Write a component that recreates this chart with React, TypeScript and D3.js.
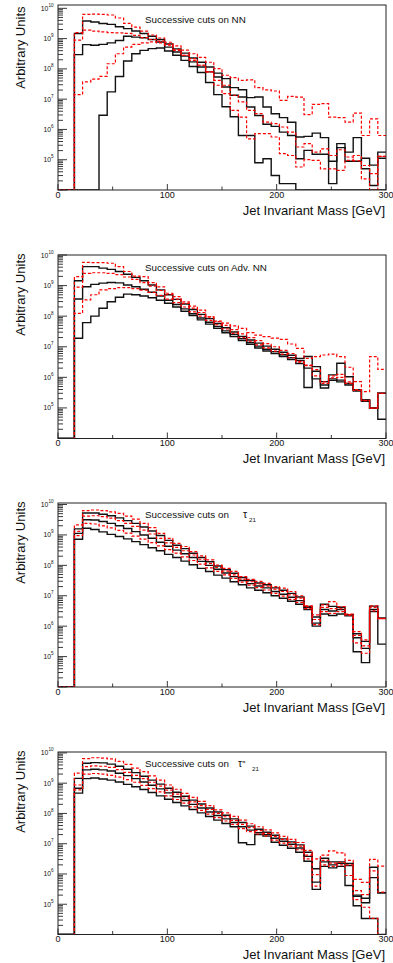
import React from 'react';
import * as d3 from 'd3';

// ---------- data (values are log10 of the bin content, null = empty bin) ----------
const binLowEdges = [0, 7.5, 15, 22.5, 30, 37.5, 45, 52.5, 60, 67.5, 75, 82.5, 90, 97.5, 105, 112.5, 120, 127.5, 135, 142.5, 150, 157.5, 165, 172.5, 180, 187.5, 195, 202.5, 210, 217.5, 225, 232.5, 240, 247.5, 255, 262.5, 270, 277.5, 285, 292.5];
const massMax = 300;
const xTickLabels = [0, 100, 200, 300];
const xMinorTicks = [50, 150, 250];
const yLabelDecades = [5, 6, 7, 8, 9, 10];

// Panel 1: NN
const nnRed1 = [null, null, 9.20, 9.80, 9.81, 9.80, 9.78, 9.68, 9.50, 9.38, 9.25, 9.12, 9.02, 8.88, 8.76, 8.62, 8.50, 8.38, 8.22, 8.01, 7.79, 7.71, 7.62, 7.64, 7.38, 7.31, 7.27, 6.96, 7.09, 7.07, 6.49, 6.83, 6.85, 6.41, 6.39, 6.24, 6.54, 5.80, 6.35, 5.80];
const nnBlack1 = [null, null, 9.17, 9.58, 9.55, 9.50, 9.47, 9.39, 9.33, 9.25, 9.17, 9.08, 8.97, 8.82, 8.66, 8.52, 8.36, 8.22, 8.06, 7.86, 7.68, 7.38, 7.31, 7.05, 7.07, 6.74, 6.52, 6.39, 6.24, 5.75, 5.77, 5.88, 5.73, 4.21, 5.53, 5.25, 5.73, 4.70, 4.15, 5.25];
const nnRed2 = [null, null, 8.95, 9.28, 9.25, 9.22, 9.20, 9.19, 9.17, 9.11, 9.03, 8.97, 8.92, 8.78, 8.61, 8.45, 8.28, 8.12, 7.90, 7.62, 7.46, 7.13, 6.91, 6.63, 6.52, 6.24, 6.19, 6.08, 5.91, 5.42, 5.53, 5.25, 5.36, 5.14, 5.33, 5.09, 4.96, 4.81, 4.54, 5.11];
const nnBlack2 = [null, null, 8.47, 8.80, 8.78, 8.81, 8.86, 8.94, 9.08, 9.05, 9.03, 8.97, 8.89, 8.72, 8.56, 8.42, 8.23, 8.06, 7.90, 7.73, 7.40, 7.13, 7.07, 6.74, 6.46, 6.17, 6.10, 5.91, 5.80, 5.03, 5.31, 5.18, 5.18, 4.95, 5.40, 4.95, 4.95, 5.05, 4.82, 5.05];
const nnRed3 = [null, null, 7.15, 7.57, 7.66, 7.75, 8.17, 8.50, 8.72, 8.81, 8.86, 8.89, 8.86, 8.81, 8.64, 8.45, 8.34, 8.12, 7.90, 7.46, 7.18, 6.63, 6.41, 5.69, 5.86, 5.86, 5.75, 5.20, 5.14, 4.76, 5.00, 4.98, 4.70, 4.70, 4.65, 4.98, 5.14, 4.37, 3.99, 5.11];
const nnBlack3 = [null, null, null, null, null, 6.47, 7.24, 7.75, 8.26, 8.50, 8.61, 8.67, 8.69, 8.59, 8.45, 8.28, 8.08, 7.88, 7.55, 7.15, 6.75, 6.42, 5.80, 5.80, 4.90, 5.03, 4.48, 4.21, 4.21, null, null, null, null, null, null, null, null, null, null, null];

// Panel 2: Adv. NN
const advRed1 = [null, null, 9.29, 9.76, 9.75, 9.75, 9.73, 9.62, 9.46, 9.31, 9.29, 9.10, 8.96, 8.75, 8.64, 8.47, 8.33, 8.20, 7.98, 7.82, 7.77, 7.68, 7.60, 7.46, 7.38, 7.33, 7.28, 7.24, 7.09, 6.95, 6.62, 6.68, 6.73, 6.76, 6.68, 6.33, 5.86, 5.53, 6.68, 6.26];
const advBlack1 = [null, null, 9.16, 9.62, 9.62, 9.57, 9.53, 9.46, 9.37, 9.27, 9.16, 9.02, 8.86, 8.70, 8.55, 8.40, 8.22, 8.06, 7.92, 7.76, 7.62, 7.48, 7.34, 7.22, 7.12, 7.02, 6.92, 6.82, 6.72, 6.62, 6.68, 6.35, 5.86, 6.08, 6.46, 6.02, 5.59, 5.26, 4.99, 5.48];
const advRed2 = [null, null, 8.95, 9.40, 9.42, 9.42, 9.40, 9.36, 9.28, 9.20, 9.10, 8.98, 8.84, 8.70, 8.56, 8.42, 8.26, 8.12, 7.98, 7.84, 7.70, 7.56, 7.42, 7.30, 7.20, 7.10, 7.00, 6.88, 6.78, 6.50, 6.40, 6.25, 5.85, 6.05, 6.10, 5.85, 5.60, 5.24, 4.99, 5.48];
const advBlack2 = [null, null, 8.56, 8.96, 9.04, 9.08, 9.10, 9.09, 9.02, 8.96, 8.88, 8.78, 8.66, 8.52, 8.38, 8.24, 8.08, 7.94, 7.80, 7.66, 7.52, 7.40, 7.26, 7.14, 7.02, 6.92, 6.84, 6.74, 6.64, 6.55, 5.67, 6.20, 5.75, 5.95, 5.91, 5.75, 5.55, 5.22, 4.99, 5.48];
const advRed3 = [null, null, 8.09, 8.53, 8.70, 8.86, 8.90, 8.93, 8.93, 8.90, 8.85, 8.78, 8.68, 8.56, 8.44, 8.30, 8.14, 8.00, 7.86, 7.72, 7.58, 7.44, 7.30, 7.18, 7.06, 6.96, 6.86, 6.76, 6.64, 6.52, 6.38, 6.05, 5.80, 5.98, 6.00, 5.80, 5.57, 5.25, 4.99, 5.48];
const advBlack3 = [null, null, 7.28, 7.79, 8.00, 8.26, 8.47, 8.62, 8.72, 8.70, 8.66, 8.60, 8.52, 8.42, 8.30, 8.16, 8.02, 7.88, 7.74, 7.60, 7.46, 7.33, 7.20, 7.08, 6.96, 6.86, 6.78, 6.68, 6.58, 6.45, 6.30, 5.95, 5.65, 5.90, 5.85, 5.80, 5.59, 5.26, 4.99, 4.63];

// Panel 3: tau21
const t21Red1 = [null, null, 9.33, 9.80, 9.82, 9.80, 9.76, 9.71, 9.62, 9.52, 9.38, 9.24, 9.05, 8.89, 8.72, 8.62, 8.45, 8.31, 8.18, 8.01, 7.90, 7.80, 7.63, 7.54, 7.47, 7.41, 7.30, 7.25, 7.14, 7.00, 6.67, 6.37, 6.70, 6.81, 6.64, 6.40, 5.82, 5.55, 6.67, 6.26];
const t21Black1 = [null, null, 9.20, 9.72, 9.72, 9.68, 9.63, 9.56, 9.47, 9.38, 9.26, 9.13, 8.98, 8.82, 8.66, 8.55, 8.40, 8.26, 8.12, 7.98, 7.86, 7.74, 7.60, 7.50, 7.42, 7.36, 7.26, 7.18, 7.08, 6.96, 6.65, 6.30, 6.72, 6.65, 6.62, 6.38, 5.75, 5.50, 6.66, 6.26];
const t21Red2 = [null, null, 9.12, 9.62, 9.63, 9.60, 9.55, 9.47, 9.38, 9.28, 9.16, 9.03, 8.89, 8.74, 8.59, 8.48, 8.34, 8.20, 8.06, 7.93, 7.81, 7.69, 7.55, 7.46, 7.39, 7.32, 7.22, 7.14, 7.03, 6.92, 6.64, 6.22, 6.62, 6.58, 6.57, 6.38, 5.70, 5.35, 6.62, 6.25];
const t21Black2 = [null, null, 9.05, 9.50, 9.49, 9.44, 9.38, 9.30, 9.21, 9.11, 9.00, 8.89, 8.76, 8.63, 8.50, 8.38, 8.26, 8.13, 8.00, 7.87, 7.75, 7.63, 7.50, 7.40, 7.32, 7.26, 7.14, 7.05, 6.95, 6.84, 6.62, 6.10, 6.55, 6.50, 6.55, 6.38, 5.62, 5.27, 6.55, 6.26];
const t21Red3 = [null, null, 8.98, 9.38, 9.36, 9.30, 9.23, 9.15, 9.06, 8.96, 8.86, 8.75, 8.64, 8.52, 8.40, 8.28, 8.16, 8.04, 7.92, 7.80, 7.69, 7.57, 7.45, 7.35, 7.27, 7.19, 7.08, 6.99, 6.88, 6.78, 6.58, 6.05, 6.48, 6.42, 6.48, 6.36, 5.45, 5.11, 6.50, 6.25];
const t21Black3 = [null, null, 8.86, 9.22, 9.18, 9.10, 9.02, 8.95, 8.87, 8.78, 8.68, 8.58, 8.48, 8.36, 8.26, 8.14, 8.02, 7.90, 7.80, 7.68, 7.58, 7.46, 7.36, 7.26, 7.18, 7.10, 7.00, 6.92, 6.82, 6.72, 6.55, 6.00, 6.40, 6.35, 6.40, 6.34, 5.16, 4.80, 6.48, 5.41];

// Panel 4: tau'21
const tp21Red1 = [null, null, 9.33, 9.81, 9.84, 9.83, 9.80, 9.72, 9.62, 9.50, 9.38, 9.24, 9.10, 8.94, 8.80, 8.66, 8.53, 8.40, 8.26, 8.12, 8.02, 7.90, 7.78, 7.66, 7.56, 7.46, 7.36, 7.24, 7.14, 7.04, 6.78, 6.50, 6.62, 6.76, 6.70, 6.45, 5.82, 5.72, 6.48, 6.26];
const tp21Black1 = [null, null, 9.16, 9.66, 9.68, 9.67, 9.63, 9.56, 9.46, 9.35, 9.23, 9.10, 8.97, 8.83, 8.70, 8.57, 8.44, 8.31, 8.18, 8.05, 7.94, 7.82, 7.70, 7.58, 7.48, 7.38, 7.28, 7.16, 7.06, 6.96, 6.72, 6.17, 6.52, 6.40, 6.40, 6.35, 5.30, 5.20, 6.22, 5.38];
const tp21Red2 = [null, null, 8.94, 9.55, 9.57, 9.56, 9.52, 9.45, 9.36, 9.26, 9.15, 9.03, 8.90, 8.77, 8.64, 8.51, 8.38, 8.26, 8.13, 8.00, 7.89, 7.77, 7.64, 7.53, 7.43, 7.34, 7.24, 7.14, 7.04, 6.92, 6.62, 5.98, 6.45, 6.36, 6.38, 6.30, 5.45, 5.32, 6.10, 5.40];
const tp21Black2 = [null, null, 8.83, 9.44, 9.46, 9.44, 9.40, 9.33, 9.25, 9.15, 9.04, 8.93, 8.81, 8.68, 8.55, 8.43, 8.30, 8.18, 8.05, 7.93, 7.82, 7.70, 7.56, 7.45, 7.36, 7.30, 7.18, 7.08, 6.98, 6.86, 6.58, 5.73, 6.40, 6.30, 6.35, 6.28, 5.26, 5.05, 5.88, 5.38];
const tp21Red3 = [null, null, 8.78, 9.30, 9.32, 9.30, 9.26, 9.20, 9.12, 9.03, 8.93, 8.82, 8.71, 8.58, 8.46, 8.34, 8.22, 8.10, 7.98, 7.86, 7.75, 7.64, 7.50, 7.40, 7.32, 7.26, 7.12, 7.02, 6.92, 6.80, 6.50, 5.60, 6.30, 6.25, 6.30, 5.95, 5.15, 4.90, 4.53, null];
const tp21Black3 = [null, null, 8.67, 9.15, 9.17, 9.14, 9.10, 9.04, 8.96, 8.88, 8.79, 8.69, 8.58, 8.47, 8.36, 8.25, 8.13, 8.02, 7.90, 7.78, 7.67, 7.56, 7.03, 6.97, 7.30, 7.25, 7.05, 6.95, 6.85, 6.72, 6.42, 5.49, 6.25, 6.20, 6.25, 5.62, 4.95, 4.53, 4.53, null];

const panelTitles = ['Successive cuts on NN', 'Successive cuts on Adv. NN', 'Successive cuts on', 'Successive cuts on'];
const panelSymbols = [null, null, { sym: 'τ', primes: '', sub: '21' }, { sym: 'τ', primes: "''", sub: '21' }];
const panelSeries = [
  { black: [nnBlack1, nnBlack2, nnBlack3], red: [nnRed1, nnRed2, nnRed3] },
  { black: [advBlack1, advBlack2, advBlack3], red: [advRed1, advRed2, advRed3] },
  { black: [t21Black1, t21Black2, t21Black3], red: [t21Red1, t21Red2, t21Red3] },
  { black: [tp21Black1, tp21Black2, tp21Black3], red: [tp21Red1, tp21Red2, tp21Red3] },
];

// ---------- layout ----------
const W = 393;
const H = 963;
const X0 = 58;
const X1 = 386;
const FONT = '"Liberation Sans", Arial, Helvetica, sans-serif';
const layouts = [
  { top: 5, bottom: 190, maxExp: 10.11, titleBase: 22.7, yTitleEnd: 6.5, symX: 0 },
  { top: 255, bottom: 438.5, maxExp: 10.0, titleBase: 270.5, yTitleEnd: 253.5, symX: 0 },
  { top: 503, bottom: 687, maxExp: 10.05, titleBase: 518, yTitleEnd: 501.5, symX: 243 },
  { top: 752, bottom: 934.5, maxExp: 10.03, titleBase: 767, yTitleEnd: 750.5, symX: 238 },
];

function histPath(exps: (number | null)[], x: any, y: any, bottom: number) {
  const pts: [number, number][] = exps.map((e, i) => [
    x(binLowEdges[i]),
    e == null ? bottom : y(Math.pow(10, e)),
  ]);
  pts.push([x(massMax), pts[pts.length - 1][1]]);
  return d3.line().curve(d3.curveStepAfter)(pts) || '';
}

function Panel({ idx }: { idx: number }) {
  const L = layouts[idx];
  const x = d3.scaleLinear().domain([0, massMax]).range([X0, X1]);
  const y = d3.scaleLog().domain([1e4, Math.pow(10, L.maxExp)]).range([L.bottom, L.top]).clamp(true);
  const ticks = y.ticks();
  const isDecade = (v: number) => Math.abs(Math.log10(v) - Math.round(Math.log10(v))) < 1e-6;
  const sym = panelSymbols[idx];
  const series = panelSeries[idx];
  const clipId = `clip${idx}`;
  return (
    <g>
      <defs>
        <clipPath id={clipId}>
          <rect x={X0} y={L.top} width={X1 - X0} height={L.bottom - L.top} />
        </clipPath>
      </defs>
      {/* y ticks */}
      {ticks.map((v, i) => (
        <line key={'yt' + i} x1={X0} x2={X0 + (isDecade(v) ? 9 : 5)} y1={y(v)} y2={y(v)} stroke="#222" strokeWidth={0.9} />
      ))}
      {yLabelDecades.map((d) => (
        <text key={'yl' + d} x={53.5} y={y(Math.pow(10, d)) + 2.5} textAnchor="end" fontSize={6.8} fontFamily={FONT} fill="#111">
          10
          <tspan dy={-4} fontSize={4.6}>{d}</tspan>
        </text>
      ))}
      {/* x ticks */}
      {xTickLabels.map((v) => (
        <line key={'xt' + v} x1={x(v)} x2={x(v)} y1={L.bottom} y2={L.bottom - 6} stroke="#222" strokeWidth={0.9} />
      ))}
      {xMinorTicks.map((v) => (
        <line key={'xm' + v} x1={x(v)} x2={x(v)} y1={L.bottom} y2={L.bottom - 3.5} stroke="#222" strokeWidth={0.9} />
      ))}
      {xTickLabels.map((v) => (
        <text key={'xl' + v} x={x(v)} y={L.bottom + 7.8} textAnchor="middle" fontSize={9} fontFamily={FONT} fill="#111">
          {v}
        </text>
      ))}
      {/* histograms */}
      <g clipPath={`url(#${clipId})`}>
        {series.black.map((s, i) => (
          <path key={'b' + i} d={histPath(s, x, y, L.bottom)} fill="none" stroke="#111" strokeWidth={1.4} />
        ))}
        {series.red.map((s, i) => (
          <path key={'r' + i} d={histPath(s, x, y, L.bottom)} fill="none" stroke="#ff0000" strokeWidth={1.2} strokeDasharray="3 2" />
        ))}
      </g>
      {/* frame */}
      <rect x={X0} y={L.top} width={X1 - X0} height={L.bottom - L.top} fill="none" stroke="#222" strokeWidth={1} />
      {/* titles */}
      <text x={145} y={L.titleBase} fontSize={9.8} fontFamily={FONT} fill="#111">
        {panelTitles[idx]}
      </text>
      {sym && (
        <g fontFamily={FONT} fill="#111">
          <text x={L.symX} y={L.titleBase} fontSize={10.5}>
            {sym.sym}
            {sym.primes && <tspan fontSize={9}>{sym.primes}</tspan>}
          </text>
          <text x={L.symX + (sym.primes ? 14 : 6)} y={L.titleBase + 3.8} fontSize={6.2}>
            {sym.sub}
          </text>
        </g>
      )}
      <text x={385} y={L.bottom + 24.5} textAnchor="end" fontSize={13} fontFamily={FONT} fill="#111">
        Jet Invariant Mass [GeV]
      </text>
      <text transform={`translate(25, ${L.yTitleEnd}) rotate(-90)`} textAnchor="end" fontSize={13} fontFamily={FONT} fill="#111">
        Arbitrary Units
      </text>
    </g>
  );
}

export default function App() {
  return (
    <svg width={W} height={H} viewBox={`0 0 ${W} ${H}`} style={{ position: 'absolute', left: 0, top: 0, display: 'block', background: '#fff' }}>
      <rect x={0} y={0} width={W} height={H} fill="#fff" />
      {layouts.map((_, i) => (
        <Panel key={i} idx={i} />
      ))}
    </svg>
  );
}
